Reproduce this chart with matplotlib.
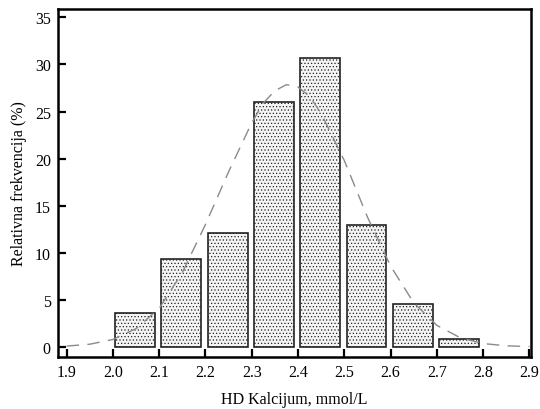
import matplotlib.pyplot as plt

# histogram bins (left edge) and relative frequency (%)
bin_starts = [2.0, 2.1, 2.2, 2.3, 2.4, 2.5, 2.6, 2.7]
freq = [3.65, 9.3, 12.1, 26.0, 30.65, 13.0, 4.6, 0.85]

# fitted curve, values
curve_x = [1.90, 1.95, 2.00, 2.05, 2.10, 2.15, 2.20, 2.25, 2.30, 2.325, 2.35,
           2.375, 2.40, 2.425, 2.45, 2.50, 2.55, 2.60, 2.65, 2.70, 2.75, 2.80,
           2.85, 2.90]
curve_y = [0.1, 0.3, 0.8, 1.95, 4.1, 7.9, 13.0, 18.6, 23.8, 25.9, 27.2,
           27.85, 27.6, 26.6, 24.8, 19.8, 13.8, 8.6, 4.7, 2.3, 1.0, 0.37,
           0.13, 0.05]

xticks = [1.9, 2.0, 2.1, 2.2, 2.3, 2.4, 2.5, 2.6, 2.7, 2.8, 2.9]
yticks = [0, 5, 10, 15, 20, 25, 30, 35]

plt.rcParams['font.family'] = ['Liberation Serif', 'DejaVu Serif']
plt.rcParams['hatch.color'] = '#c4c4c4'
plt.rcParams['hatch.linewidth'] = 0.5

fig = plt.figure(figsize=(5.4, 4.1), dpi=100)
ax = fig.add_axes([0.107, 0.127, 0.876, 0.849])

ax.bar([b + 0.005 for b in bin_starts], freq, width=0.086, align='edge',
       facecolor='#f4f4f4', edgecolor='#222222', linewidth=1.2, hatch='.....',
       zorder=2)
ax.plot(curve_x, curve_y, color='#8a8a8a', linewidth=1.0,
        dashes=(9, 6), zorder=3)

ax.set_xlim(1.881, 2.903)
ax.set_ylim(-1.05, 35.9)
ax.set_xticks(xticks)
ax.set_xticklabels([f'{t:.1f}' for t in xticks])
ax.set_yticks(yticks)

for s in ax.spines.values():
    s.set_linewidth(1.8)
ax.tick_params(direction='in', length=6, width=1.6, labelsize=11.5, pad=5)

ax.set_xlabel('HD Kalcijum, mmol/L', fontsize=11.5, labelpad=8)
ax.set_ylabel('Relativna frekvencija (%)', fontsize=11.5, labelpad=6)

plt.savefig('out.png', dpi=100)
